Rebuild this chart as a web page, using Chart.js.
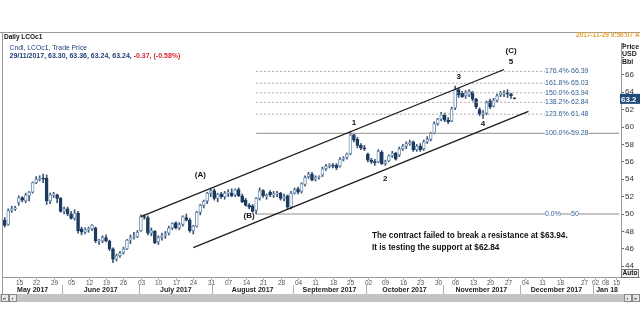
<!DOCTYPE html>
<html>
<head>
<meta charset="utf-8">
<script src="https://cdn.jsdelivr.net/npm/chart.js@4.4.0/dist/chart.umd.min.js"></script>
<style>
  html, body { margin: 0; padding: 0; background: #fff; }
</style>
</head>
<body>
<canvas id="lco" width="640" height="320"></canvas>
<script>
// trading days shown on the chart (month -> day numbers)
const tradingDays = [
  ["2017-05", [9,10,11,12,15,16,17,18,19,22,23,24,25,26,29,30,31]],
  ["2017-06", [1,2,5,6,7,8,9,12,13,14,15,16,19,20,21,22,23,26,27,28,29,30]],
  ["2017-07", [3,4,5,6,7,10,11,12,13,14,17,18,19,20,21,24,25,26,27,28,31]],
  ["2017-08", [1,2,3,4,7,8,9,10,11,14,15,16,17,18,21,22,23,24,25,28,29,30,31]],
  ["2017-09", [1,4,5,6,7,8,11,12,13,14,15,18,19,20,21,22,25,26,27,28,29]],
  ["2017-10", [2,3,4,5,6,9,10,11,12,13,16,17,18,19,20,23,24,25,26,27,30,31]],
  ["2017-11", [1,2,3,6,7,8,9,10,13,14,15,16,17,20,21,22,23,24,27,28,29]]
];
// empty space on the right of the chart
const futureDays = [
  ["2017-11", [30]],
  ["2017-12", [1,4,5,6,7,8,11,12,13,14,15,18,19,20,21,22,25,26,27,28,29]],
  ["2018-01", [2,3,5,8,10,12,15,16]]
];

// daily OHLC, one value per trading day (May / Jun / Jul / Aug / Sep / Oct / Nov)
const opens = [
  49.3,48.8,50.4,50.6,51.3,51.9,51.5,52.1,52.5,53.6,54.0,54.1,54.1,51.5,52.2,52.2,51.8,
  50.3,50.6,50.0,49.5,50.1,48.3,47.9,48.2,48.3,48.4,46.9,46.9,47.3,46.9,46.0,44.8,45.2,45.6,46.0,47.0,47.3,47.4,
  48.1,49.7,49.6,47.8,48.0,46.8,47.3,47.5,47.8,48.4,49.0,48.4,48.8,49.6,49.3,48.1,48.6,50.2,51.0,51.5,52.4,
  52.7,51.8,52.3,52.0,52.4,52.4,52.2,52.8,52.1,51.6,51.0,50.9,50.4,51.8,52.7,52.0,52.5,52.2,52.3,52.4,51.8,52.1,50.8,
  52.4,52.9,52.6,53.4,54.3,54.6,54.0,54.2,54.5,55.2,55.6,55.6,55.6,55.5,56.3,56.5,56.9,59.1,58.6,57.9,57.6,
  56.9,56.2,56.0,56.0,57.1,55.8,56.1,56.7,57.0,56.8,57.5,57.8,58.1,58.3,57.4,57.8,57.5,58.3,58.6,59.3,60.4,60.9,
  61.4,60.8,60.7,62.2,64.3,63.9,63.6,63.7,64.0,63.2,62.0,61.5,61.6,63.0,62.4,63.1,63.7,63.8,63.9,63.8,63.30
];
const highs = [
  49.6,50.6,50.9,50.9,52.1,52.0,52.4,52.6,53.7,54.3,54.4,54.6,54.5,52.4,52.5,52.3,51.9,
  50.8,50.8,50.3,50.5,50.3,48.5,48.4,48.5,48.8,48.5,47.1,47.5,47.6,47.0,46.1,45.4,45.7,46.2,47.1,47.6,47.9,48.1,
  49.9,49.9,49.8,48.4,48.1,47.5,47.8,48.0,48.6,49.0,49.1,49.0,49.8,50.0,49.5,48.7,50.3,51.1,51.6,52.5,52.9,
  52.9,52.4,52.5,52.6,52.8,52.9,52.9,53.0,52.3,51.8,51.2,51.1,51.9,53.0,52.8,52.3,52.7,52.6,52.6,52.5,52.3,52.2,52.6,
  53.0,53.1,53.6,54.4,54.8,54.8,54.4,54.4,55.4,55.7,55.8,55.8,55.8,56.5,56.6,57.0,59.5,59.2,58.8,58.1,57.9,
  57.0,56.4,56.3,57.4,57.3,56.2,56.8,57.2,57.1,57.7,58.0,58.3,58.5,58.4,58.0,58.1,58.5,58.9,59.4,60.6,61.0,61.7,
  61.6,61.1,62.3,64.7,64.5,64.1,64.2,64.3,64.1,63.3,62.2,61.9,63.0,63.2,63.3,63.8,64.1,64.2,64.3,63.9,63.36
];
const lows = [
  48.5,48.7,50.2,50.4,51.0,51.4,51.3,51.5,52.4,53.5,53.8,53.6,51.1,51.2,51.9,51.3,50.2,
  50.0,49.8,49.4,49.3,47.8,47.6,47.7,47.9,48.1,46.7,46.5,46.7,46.8,45.8,44.4,44.6,45.0,45.4,45.9,46.6,47.1,47.3,
  48.0,49.4,47.6,47.5,46.6,46.5,47.0,47.2,47.6,48.2,48.3,48.2,48.6,49.2,47.9,47.7,48.5,49.9,50.7,51.2,52.0,
  51.6,51.4,51.8,51.7,52.0,52.0,52.0,52.0,51.3,50.9,50.6,50.2,50.0,51.6,51.9,51.7,52.0,51.9,52.0,51.6,51.5,50.6,50.6,
  52.3,52.3,52.4,53.2,54.1,53.8,53.8,54.0,54.3,55.0,55.3,55.3,55.1,55.4,56.1,56.3,56.8,58.3,57.6,57.4,57.3,
  56.0,55.8,55.6,55.9,55.7,55.6,56.0,56.5,56.2,56.6,57.3,57.5,57.9,57.2,57.2,57.2,57.3,58.1,58.4,59.2,60.2,60.7,
  60.6,60.4,60.6,62.0,63.4,63.4,63.3,63.5,63.0,62.1,61.3,61.0,61.4,62.1,62.3,62.9,63.5,63.5,63.4,63.3,63.24
];
const closes = [
  48.7,50.4,50.6,50.7,51.9,51.6,52.2,52.5,53.6,54.0,54.1,54.0,51.5,52.2,52.3,51.8,50.3,
  50.6,50.0,49.5,50.1,48.1,47.9,48.2,48.3,48.7,46.9,47.0,47.3,46.9,46.0,44.8,45.2,45.5,46.0,47.0,47.3,47.4,47.9,
  49.7,49.6,47.8,48.1,46.7,47.3,47.5,47.7,48.4,48.9,48.4,48.8,49.7,49.3,48.1,48.6,50.2,51.0,51.5,52.4,52.7,
  51.8,52.3,52.0,52.4,52.4,52.1,52.8,52.1,51.4,51.0,50.8,50.3,51.8,52.7,52.1,52.0,52.2,52.3,52.4,51.8,52.0,50.8,52.4,
  52.8,52.5,53.5,54.2,54.6,53.9,54.2,54.3,55.2,55.5,55.6,55.5,55.3,56.3,56.4,56.9,59.1,58.5,57.9,57.6,57.5,
  56.2,56.0,55.9,57.2,55.8,56.0,56.7,57.0,56.3,57.5,57.8,58.1,58.2,57.4,57.8,57.4,58.3,58.6,59.3,60.4,60.9,61.4,
  60.8,60.6,62.1,64.3,63.7,63.5,63.9,64.1,63.2,62.3,61.5,61.6,62.8,62.3,63.1,63.6,63.9,63.9,63.8,63.6,63.24
];

// trend channel: [start day, start price, end day, end price]
const upperChannel = ["2017-07-03", 49.70, "2017-11-24", 66.61];
const lowerChannel = ["2017-07-24", 46.14, "2017-12-05", 61.80];

// Fibonacci extension levels
const fibPct = ["176.4%", "161.8%", "150.0%", "138.2%", "123.6%", "100.0%", "0.0%"];
const fibLevels = [66.39, 65.03, 63.94, 62.84, 61.48, 59.28, 50];
const fibSolid = [false, false, false, false, false, true, true];

// Elliott wave labels: day, price, text
const waveLabels = [
  ["2017-07-26", 54.5, "(A)"],
  ["2017-08-15", 49.8, "(B)"],
  ["2017-09-26", 60.5, "1"],
  ["2017-10-09", 54.0, "2"],
  ["2017-11-07", 65.8, "3"],
  ["2017-11-16", 60.4, "4"],
  ["2017-11-28", 67.45, "5"],
  ["2017-11-28", 68.8, "(C)"]
];

// bottom axis labels
const dayTicks = [
  ["2017-05-15","15"],["2017-05-22","22"],["2017-05-29","29"],
  ["2017-06-05","05"],["2017-06-12","12"],["2017-06-19","19"],["2017-06-26","26"],
  ["2017-07-03","03"],["2017-07-10","10"],["2017-07-17","17"],["2017-07-24","24"],["2017-07-31","31"],
  ["2017-08-07","07"],["2017-08-14","14"],["2017-08-21","21"],["2017-08-28","28"],
  ["2017-09-04","04"],["2017-09-11","11"],["2017-09-18","18"],["2017-09-25","25"],
  ["2017-10-02","02"],["2017-10-09","09"],["2017-10-16","16"],["2017-10-23","23"],["2017-10-30","30"],
  ["2017-11-06","06"],["2017-11-13","13"],["2017-11-20","20"],["2017-11-27","27"],
  ["2017-12-04","04"],["2017-12-11","11"],["2017-12-18","18"],["2017-12-27","27"],
  ["2018-01-02","02"],["2018-01-08","08"],["2018-01-15","15"]
];
const monthLabels = [
  ["2017-05","May 2017"],["2017-06","June 2017"],["2017-07","July 2017"],["2017-08","August 2017"],
  ["2017-09","September 2017"],["2017-10","October 2017"],["2017-11","November 2017"],
  ["2017-12","December 2017"],["2018-01","Jan 18"]
];

const pad = n => (n < 10 ? "0" : "") + n;
const labels = [];
tradingDays.concat(futureDays).forEach(([m, ds]) => ds.forEach(d => labels.push(m + "-" + pad(d))));

const up = i => closes[i] >= opens[i];
const FONT = '"Liberation Sans", Arial, sans-serif';

function lineSet(d0, v0, d1, v1, color, dash, width) {
  return {
    type: "line",
    data: [{ x: d0, y: v0 }, { x: d1, y: v1 }],
    borderColor: color,
    borderWidth: width || 1,
    borderDash: dash || [],
    pointRadius: 0,
    order: 0
  };
}

const datasets = [
  {
    type: "bar",
    data: lows.map((l, i) => [l, highs[i]]),
    backgroundColor: "#3b5675",
    barThickness: 1,
    grouped: false,
    order: 3
  },
  {
    type: "bar",
    data: opens.map((o, i) => [Math.min(o, closes[i]), Math.max(o, closes[i])]),
    backgroundColor: c => (up(c.dataIndex) ? "#ffffff" : "#1c3b5e"),
    borderColor: c => (up(c.dataIndex) ? "#7392b4" : "#1c3b5e"),
    borderWidth: 1,
    borderSkipped: false,
    minBarLength: 1,
    barThickness: 3,
    grouped: false,
    order: 2
  },
  lineSet(upperChannel[0], upperChannel[1], upperChannel[2], upperChannel[3], "#1a1a1a", [], 1.2),
  lineSet(lowerChannel[0], lowerChannel[1], lowerChannel[2], lowerChannel[3], "#1a1a1a", [], 1.2)
];
fibLevels.forEach((v, i) => {
  datasets.push(lineSet("2017-08-17", v, fibSolid[i] ? "2018-01-16" : "2017-12-28", v,
    fibSolid[i] ? "#8e8e8e" : "#a8a8a8", fibSolid[i] ? [] : [2, 2]));
});

const overlay = {
  id: "overlay",
  afterDraw(chart) {
    const { ctx, chartArea: a } = chart;
    const x = chart.scales.x, y = chart.scales.y;
    const px = key => x.getPixelForValue(labels.indexOf(key));
    ctx.save();

    // frame and header
    ctx.strokeStyle = "#9a9a9a";
    ctx.lineWidth = 1;
    ctx.beginPath();
    ctx.moveTo(0, 32.5); ctx.lineTo(640, 32.5);
    ctx.moveTo(2.5, 32); ctx.lineTo(2.5, 302);
    ctx.stroke();

    ctx.textBaseline = "middle";
    ctx.textAlign = "left";
    ctx.fillStyle = "#111";
    ctx.font = "bold 6.5px " + FONT;
    ctx.fillText("Daily LCOc1", 4, 37.5);

    ctx.fillStyle = "#e8a038";
    ctx.font = "bold 6.5px " + FONT;
    ctx.fillText("2017-11-29 9:56:07 AM", 576, 35);

    ctx.fillStyle = "#1d3f7a";
    ctx.font = "6.8px " + FONT;
    ctx.fillText("Cndl, LCOc1, Trade Price", 9.5, 48.5);
    ctx.font = "bold 7px " + FONT;
    const head = "29/11/2017, 63.30, 63.36, 63.24, 63.24, ";
    ctx.fillText(head, 9.5, 56);
    ctx.fillStyle = "#d8262b";
    ctx.fillText("-0.37, (-0.58%)", 9.5 + ctx.measureText(head).width, 56);

    ctx.fillStyle = "#222";
    ctx.font = "bold 7px " + FONT;
    ctx.fillText("Price", 622, 47);
    ctx.fillText("USD", 622, 54.5);
    ctx.fillText("Bbl", 622, 62);

    // Fibonacci labels
    ctx.font = "7px " + FONT;
    fibLevels.forEach((v, i) => {
      const yy = y.getPixelForValue(v);
      const t1 = fibPct[i], t2 = String(v);
      const w1 = ctx.measureText(t1).width, w2 = ctx.measureText(t2).width;
      ctx.fillStyle = "#fff";
      ctx.fillRect(545, yy - 3.5, w1, 7);
      ctx.fillRect(571, yy - 3.5, w2, 7);
      ctx.fillStyle = "#2f5f92";
      ctx.fillText(t1, 545, yy);
      ctx.fillText(t2, 571, yy);
    });

    // wave labels
    ctx.fillStyle = "#111";
    ctx.font = "bold 8px " + FONT;
    ctx.textAlign = "center";
    waveLabels.forEach(([d, v, t]) => ctx.fillText(t, px(d), y.getPixelForValue(v)));

    // comment
    ctx.textAlign = "left";
    ctx.font = "bold 8.2px " + FONT;
    ctx.fillText("The contract failed to break a resistance at $63.94.", 372, 236);
    ctx.fillText("It is testing the support at $62.84", 372, 247.5);

    // last price box
    const ly = y.getPixelForValue(closes[closes.length - 1]);
    ctx.fillStyle = "#1f4a78";
    ctx.fillRect(620, ly - 5, 20, 10);
    ctx.fillStyle = "#fff";
    ctx.font = "bold 8px " + FONT;
    ctx.fillText("63.2", 621, ly + 0.5);

    // bottom date axis
    ctx.strokeStyle = "#9a9a9a";
    ctx.beginPath();
    ctx.moveTo(a.left, a.bottom + 0.5); ctx.lineTo(640, a.bottom + 0.5);
    ctx.stroke();
    ctx.fillStyle = "#555";
    ctx.font = "6.5px " + FONT;
    ctx.textAlign = "center";
    ctx.strokeStyle = "#b0b0b0";
    dayTicks.forEach(([d, t]) => {
      const xx = Math.round(px(d)) + 0.5;
      ctx.beginPath(); ctx.moveTo(xx, a.bottom); ctx.lineTo(xx, a.bottom + 3); ctx.stroke();
      ctx.fillText(t, xx, 283);
    });
    const half = (x.getPixelForValue(1) - x.getPixelForValue(0)) / 2;
    ctx.font = "bold 7px " + FONT;
    ctx.fillStyle = "#222";
    monthLabels.forEach(([m, t], i) => {
      const first = labels.findIndex(l => l.startsWith(m));
      const next = i + 1 < monthLabels.length ? labels.findIndex(l => l.startsWith(monthLabels[i + 1][0])) : -1;
      const x0 = Math.max(a.left, x.getPixelForValue(first) - half);
      const x1 = next < 0 ? a.right : x.getPixelForValue(next) - half;
      ctx.fillText(t, (x0 + x1) / 2, 290.5);
      if (next > 0) {
        ctx.beginPath(); ctx.moveTo(Math.round(x1) + 0.5, 285); ctx.lineTo(Math.round(x1) + 0.5, 294); ctx.stroke();
      }
    });

    // scroll bar
    ctx.fillStyle = "#c4c4c4";
    ctx.fillRect(0, 294, 640, 8);
    ctx.fillStyle = "#e8e8e8";
    ctx.strokeStyle = "#888";
    [[1, 294.5], [9, 294.5], [624, 294.5], [632, 294.5]].forEach(([bx, by]) => {
      ctx.fillRect(bx, by, 7, 7); ctx.strokeRect(bx + 0.5, by, 7, 7);
    });
    ctx.fillStyle = "#222";
    ctx.font = "6px " + FONT;
    ctx.fillText("«", 4.5, 298);
    ctx.fillText("‹", 12.5, 298);
    ctx.fillText("›", 627.5, 298);
    ctx.fillText("»", 635.5, 298);

    // Auto box
    ctx.fillStyle = "#f2f2f2";
    ctx.fillRect(621, 269, 18, 8);
    ctx.strokeStyle = "#777";
    ctx.strokeRect(621.5, 269.5, 17, 8);
    ctx.fillStyle = "#111";
    ctx.font = "bold 6.5px " + FONT;
    ctx.fillText("Auto", 630, 273.5);

    ctx.restore();
  }
};

new Chart(document.getElementById("lco"), {
  data: { labels: labels, datasets: datasets },
  options: {
    responsive: false,
    animation: false,
    layout: { padding: { left: 3, right: 0, top: 43, bottom: 43 } },
    plugins: { legend: { display: false }, tooltip: { enabled: false } },
    scales: {
      x: {
        type: "category",
        display: false,
        offset: true
      },
      y: {
        position: "right",
        min: 42.76,
        max: 69.66,
        afterFit: s => { s.width = 19; },
        border: { display: true, color: "#9a9a9a" },
        grid: { drawOnChartArea: false, tickLength: 3, color: "#666" },
        ticks: {
          stepSize: 2,
          padding: 1,
          color: "#333",
          font: { family: FONT, size: 8 },
          callback: v => (v >= 44 && v <= 66 ? v : "")
        }
      }
    }
  },
  plugins: [overlay]
});
</script>
</body>
</html>
